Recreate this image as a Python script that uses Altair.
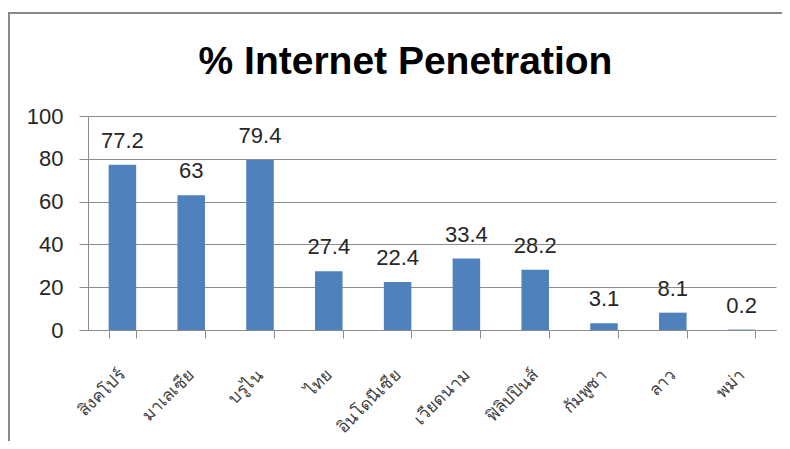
import altair as alt
import pandas as pd

countries = ["สิงคโปร์", "มาเลเซีย", "บรูไน", "ไทย", "อินโดนีเซีย",
             "เวียดนาม", "ฟิลิปปินส์", "กัมพูชา", "ลาว", "พม่า"]
values = [77.2, 63, 79.4, 27.4, 22.4, 33.4, 28.2, 3.1, 8.1, 0.2]
labels = ["77.2", "63", "79.4", "27.4", "22.4", "33.4", "28.2", "3.1", "8.1", "0.2"]
y_ticks = [0, 20, 40, 60, 80, 100]
title_text = "% Internet Penetration"

df = pd.DataFrame({"country": countries, "value": values, "label": labels})

W, H = 688, 214
PAD = {"left": 80, "top": 108, "right": 6, "bottom": 111}
FRAME = "#898989"
GRID = "#8c8c8c"
TXT = "#262626"
FONT = "Liberation Sans"

x_enc = alt.X(
    "country:N", sort=countries, title=None,
    scale=alt.Scale(paddingInner=0.6, paddingOuter=0.3),
    axis=alt.Axis(
        labelAngle=-45, labelAlign="right", labelBaseline="middle",
        labelPadding=34, labelFontSize=17, labelColor="#404040",
        tickBand="extent", tickSize=8, tickColor=GRID, domainColor=GRID,
        grid=False,
    ),
)
y_enc = alt.Y(
    "value:Q", title=None,
    scale=alt.Scale(domain=[0, 100], nice=False),
    axis=alt.Axis(
        values=y_ticks, grid=True, gridColor=GRID, gridWidth=1,
        tickSize=9, tickColor=GRID, domainColor=GRID,
        labelFontSize=22, labelColor=TXT, labelFont=FONT, labelPadding=16,
    ),
)

bars = alt.Chart(df).mark_bar(color="#4F81BD").encode(x=x_enc, y=y_enc)
texts = alt.Chart(df).mark_text(
    baseline="alphabetic", dy=-17, fontSize=22, color=TXT, font=FONT
).encode(x=alt.X("country:N", sort=countries), y="value:Q", text="label:N")

one = pd.DataFrame({"t": [title_text]})
title = alt.Chart(one).mark_text(
    font=FONT, fontSize=39, fontWeight="bold", color="#000000",
    align="center", baseline="alphabetic"
).encode(x=alt.value(317.5), y=alt.value(-42), text="t:N")
frame_top = alt.Chart(one).mark_rule(color=FRAME, strokeWidth=2).encode(
    x=alt.value(-PAD["left"] + 1), x2=alt.value(W + PAD["right"] + 10),
    y=alt.value(-PAD["top"] + 5))
frame_left = alt.Chart(one).mark_rule(color=FRAME, strokeWidth=2).encode(
    x=alt.value(-PAD["left"] + 1),
    y=alt.value(-PAD["top"] + 4), y2=alt.value(H + PAD["bottom"] + 10))

chart = alt.layer(bars, texts, title, frame_top, frame_left).properties(
    width=W, height=H,
    padding=PAD,
    autosize=alt.AutoSizeParams(type="none"),
).configure_view(stroke=None)

chart.save("out.html", embed_options={"renderer": "svg", "actions": False})
